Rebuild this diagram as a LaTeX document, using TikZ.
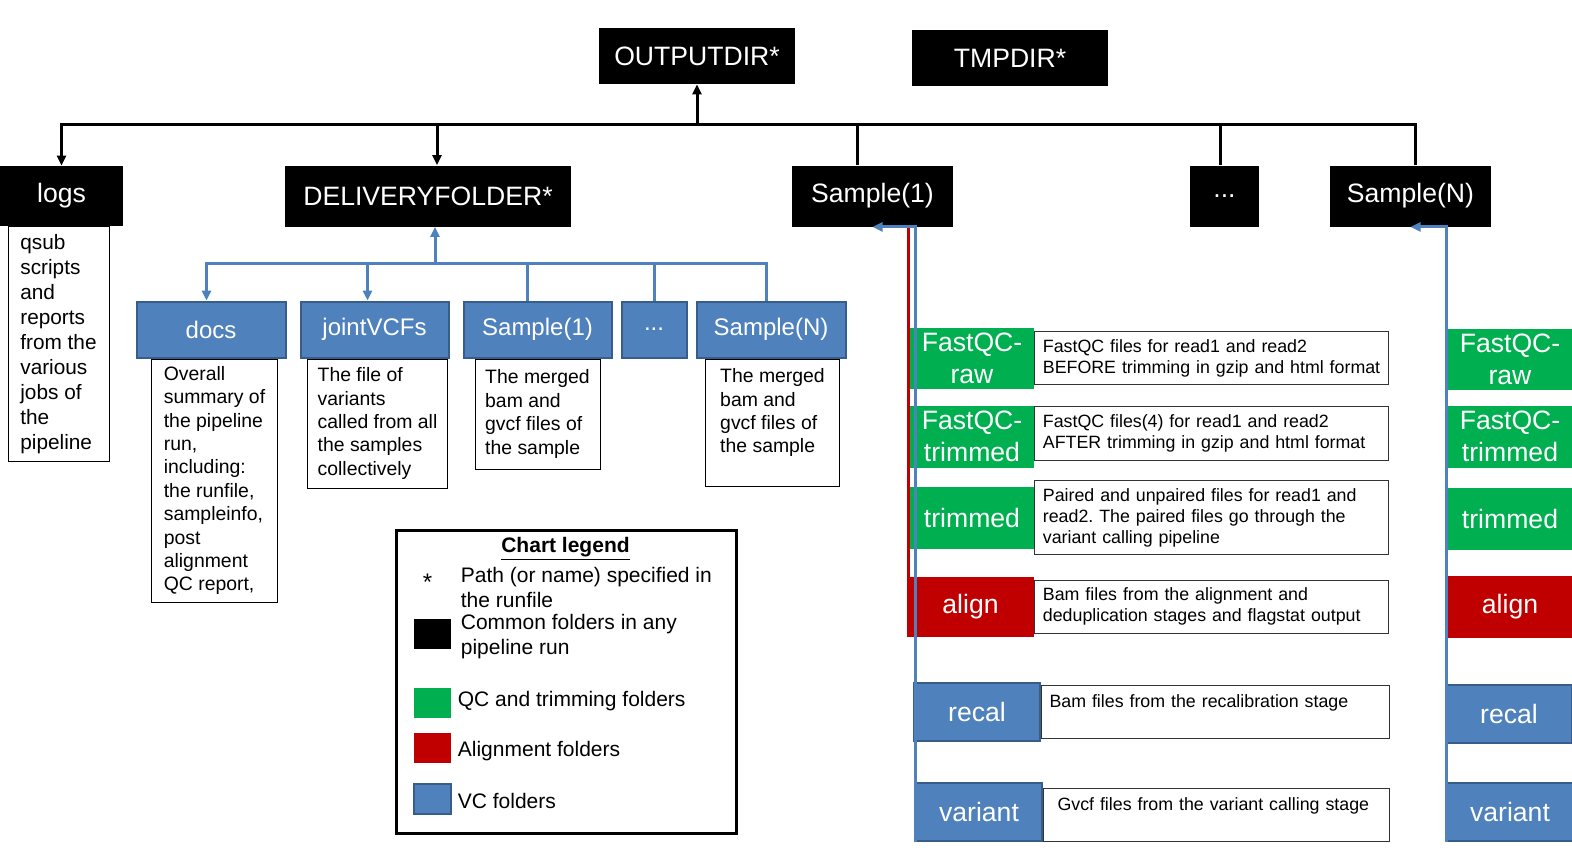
\documentclass[tikz,border=0pt]{standalone}
\usepackage{fontspec}
\setmainfont{Liberation Sans}
\usepackage{xcolor}
\usepackage{tikz}
\usetikzlibrary{positioning, arrows.meta}
\frenchspacing
\definecolor{qcgreen}{HTML}{00B050}
\definecolor{alnred}{HTML}{C00000}
\definecolor{vcblue}{HTML}{4F81BD}
\definecolor{vcedge}{HTML}{385D8A}
\newcommand{\commoncolor}{black}
\newcommand{\qccolor}{qcgreen}
\newcommand{\aligncolor}{alnred}
\newcommand{\vccolor}{vcblue}
\newcommand{\headfont}{\fontsize{13.3}{16}\selectfont}
\newcommand{\subfont}{\fontsize{12}{14}\selectfont}
\newcommand{\logfont}{\fontsize{10.4}{12.5}\selectfont}
\newcommand{\notefont}{\fontsize{9.7}{11.7}\selectfont}
\newcommand{\descfont}{\fontsize{8.9}{10.5}\selectfont}
\newcommand{\legendfont}{\fontsize{10.5}{12.5}\selectfont}
\tikzstyle{common} = [rectangle, fill=\commoncolor, text=white,
font=\headfont, inner sep=0pt]
\tikzstyle{qcbox} = [rectangle, fill=\qccolor, text=white,
font=\headfont, align=center, inner sep=0pt,
minimum width=62pt]
\tikzstyle{alnbox} = [rectangle, fill=\aligncolor, text=white,
font=\headfont, inner sep=0pt]
\tikzstyle{vcbox} = [rectangle, fill=\vccolor, draw=vcedge,
line width=1pt, text=white, font=\headfont, inner sep=0pt]
\tikzstyle{subbox} = [vcbox, font=\subfont, minimum height=28pt]
\tikzstyle{note} = [rectangle, draw=black, line width=0.5pt,
fill=white, align=left, font=\notefont, inner sep=0pt]
\tikzstyle{desc} = [rectangle, draw=black!80, line width=0.5pt,
fill=white, font=\descfont, align=left,
inner xsep=4pt, inner ysep=0pt, text width=169pt]
\tikzstyle{busline} = [line width=1.5pt]
\tikzstyle{busarrow} = [busline, -{Triangle[length=5pt,width=4.5pt]}]
\tikzstyle{vcline} = [line width=1.5pt, draw=\vccolor]
\tikzstyle{vcarrow} = [vcline, -{Triangle[length=5pt,width=4.5pt]}]
\tikzstyle{key} = [rectangle, minimum width=18.5pt,
minimum height=15pt, inner sep=0pt]
\tikzstyle{keytext} = [font=\legendfont, align=left, anchor=west,
inner sep=0pt]
\begin{document}
\begin{tikzpicture}[x=0.5pt, y=-0.5pt]
\useasboundingbox (0,0) rectangle (1572,863);

%-----------top level folders
\node (out) [common, minimum width=98pt, minimum height=28pt] at (697,56) {OUTPUTDIR*};
\node (tmp) [common, minimum width=98pt, minimum height=28pt] at (1010,58) {TMPDIR*};
\node (logs) [common, minimum width=61.5pt, minimum height=30pt] at (61.5,196) {logs};
\node (deliv) [common, minimum width=143pt, minimum height=30.5pt] at (428,196) {DELIVERYFOLDER*};
\node (s1) [common, minimum width=80.5pt, minimum height=30.5pt] at (872.5,196) {Sample(1)};
\node (dots) [common, minimum width=34.5pt, minimum height=30.5pt] at (1224.5,196) {...};
\node (sN) [common, minimum width=80.5pt, minimum height=30.5pt] at (1410.5,196) {Sample(N)};
\coordinate (bus) at (697,124);

%-----------logs text
\node (logsinfo) [note, font=\logfont, minimum width=50.5pt, minimum height=117.5pt,
  below=0pt of logs, xshift=-1.5pt]
  {qsub\\scripts\\and\\reports\\from the\\various\\jobs of\\the\\pipeline};

%-----------delivery folder content
\node (docs) [subbox, minimum width=74.5pt] at (211,329.5) {docs};
\node (joint) [subbox, minimum width=74pt] at (374.5,329.5) {jointVCFs};
\node (vs1) [subbox, minimum width=74pt] at (537.5,329.5) {Sample(1)};
\node (vdots) [subbox, minimum width=32.5pt] at (654,329.5) {...};
\node (vsN) [subbox, minimum width=74.5pt] at (771,329.5) {Sample(N)};
\coordinate (vcbus) at (435,263);

\node (docsinfo) [note, minimum width=63pt, minimum height=121.5pt,
  below=0pt of docs, xshift=1.75pt]
  {Overall\\summary of\\the pipeline\\run,\\including:\\the runfile,\\sampleinfo,\\post\\alignment\\QC report,};
\node (jointinfo) [note, minimum width=70pt, minimum height=64.5pt,
  below=0pt of joint, xshift=1.5pt]
  {The file of\\variants\\called from all\\the samples\\collectively};
\node (vs1info) [note, minimum width=62.5pt, minimum height=55pt,
  below=0pt of vs1]
  {The merged\\bam and\\gvcf files of\\the sample};
\node (vsNinfo) [note, minimum width=67pt, minimum height=63.5pt,
  below=0pt of vsN, xshift=0.75pt]
  {The merged\\bam and\\gvcf files of\\the sample\\\mbox{}};

%-----------sample(1) folders
\node (fqraw1) [qcbox, minimum height=30.5pt] at (972,358) {FastQC-\\raw};
\node (fqtrim1) [qcbox, minimum height=31pt] at (972,436.5) {FastQC-\\trimmed};
\node (trim1) [qcbox, minimum height=31pt] at (972,517.5) {trimmed};
\node (align1) [alnbox, minimum width=63.5pt, minimum height=30pt] at (970.5,606.5) {align};
\node (recal1) [vcbox, minimum width=63pt, minimum height=29pt] at (977,711.5) {recal};
\node (variant1) [vcbox, minimum width=63pt, minimum height=29pt] at (979,811.5) {variant};

%-----------what they hold
\node (fqrawinfo) [desc, right=0pt of fqraw1, minimum height=26.5pt]
  {FastQC files for read1 and read2\\BEFORE trimming in gzip and html format};
\node (fqtriminfo) [desc, right=0pt of fqtrim1, minimum height=27pt, yshift=1.5pt]
  {FastQC files(4) for read1 and read2\\AFTER trimming in gzip and html format};
\node (triminfo) [desc, right=0pt of trim1, minimum height=37pt]
  {Paired and unpaired files for read1 and\\read2. The paired files go through the\\variant calling pipeline};
\node (aligninfo) [desc, right=0pt of align1, minimum height=26.5pt]
  {Bam files from the alignment and\\deduplication stages and flagstat output};
\node (recalinfo) [desc, right=0pt of recal1, minimum height=26.5pt, text width=166pt]
  {Bam files from the recalibration stage\\\mbox{}};
\node (variantinfo) [desc, right=0pt of variant1, minimum height=26.5pt, text width=165pt, yshift=-1.5pt]
  {\hspace{3pt}Gvcf files from the variant calling stage\\\mbox{}};

%-----------sample(N) folders
\node (fqrawN) [qcbox, minimum height=30.5pt] at (1510,359) {FastQC-\\raw};
\node (fqtrimN) [qcbox, minimum height=31pt] at (1510,436.5) {FastQC-\\trimmed};
\node (trimN) [qcbox, minimum height=31pt] at (1510,518.5) {trimmed};
\node (alignN) [alnbox, minimum width=62pt, minimum height=31pt] at (1510,606.5) {align};
\node (recalN) [vcbox, minimum width=63pt, minimum height=29pt] at (1509,713.5) {recal};
\node (variantN) [vcbox, minimum width=63pt, minimum height=29pt] at (1510,811.5) {variant};

%-----------legend
\node (legend) [draw, line width=1.5pt, minimum width=170pt, minimum height=151.5pt] at (566.5,682) {};
\node (legendtitle) [font=\legendfont\bfseries, inner sep=0pt] at (565.5,549) {\underline{Chart legend}};
\node (star) [font=\fontsize{12}{14}\selectfont, inner sep=0pt] at (427.5,582) {*};
\node (startext) [keytext] at (460.5,587) {Path (or name) specified in\\the runfile};
\node (keycommon) [key, fill=\commoncolor] at (432,633.5) {};
\node (commontext) [keytext] at (460.5,637) {Common folders in any\\pipeline run};
\node (keyqc) [key, fill=\qccolor] at (432,703) {};
\node (qctext) [keytext] at (457.5,701.5) {QC and trimming folders};
\node (keyalign) [key, fill=\aligncolor] at (432,748) {};
\node (aligntext) [keytext] at (457.5,751.5) {Alignment folders};
\node (keyvc) [key, fill=\vccolor, draw=vcedge, line width=1pt] at (432,799) {};
\node (vctext) [keytext] at (457.5,800.5) {VC folders};

%-----------black tree
\draw [busarrow] ([xshift=2.25pt]sN.north) |- (bus) -| (logs.north);
\draw [busarrow] (bus) -- (out.south);
\draw [busarrow] ([xshift=4.5pt]deliv.north |- bus) -- ([xshift=4.5pt]deliv.north);
\draw [busline] ([xshift=-7.75pt]s1.north |- bus) -- ([xshift=-7.75pt]s1.north);
\draw [busline] ([xshift=-2.25pt]dots.north |- bus) -- ([xshift=-2.25pt]dots.north);

%-----------blue tree
\draw [vcarrow] (vcbus) -- ([xshift=3.5pt]deliv.south);
\draw [vcarrow] ([xshift=-2.25pt]vsN.north) |- (vcbus) -| ([xshift=-2.25pt]docs.north);
\draw [vcarrow] ([xshift=-3.5pt]joint.north |- vcbus) -- ([xshift=-3.5pt]joint.north);
\draw [vcline] ([xshift=-5pt]vs1.north |- vcbus) -- ([xshift=-5pt]vs1.north);
\draw [vcline] (vdots.north |- vcbus) -- (vdots.north);

%-----------sample columns
\draw [line width=1.5pt, draw=\aligncolor] ([xshift=0.75pt]align1.south west) -- ([xshift=0.75pt]align1.south west |- s1.south);
\draw [vcarrow] (variant1.south west) |- (s1.south);
\draw [vcarrow] (variantN.south west) |- (sN.south);

\end{tikzpicture}
\end{document}
